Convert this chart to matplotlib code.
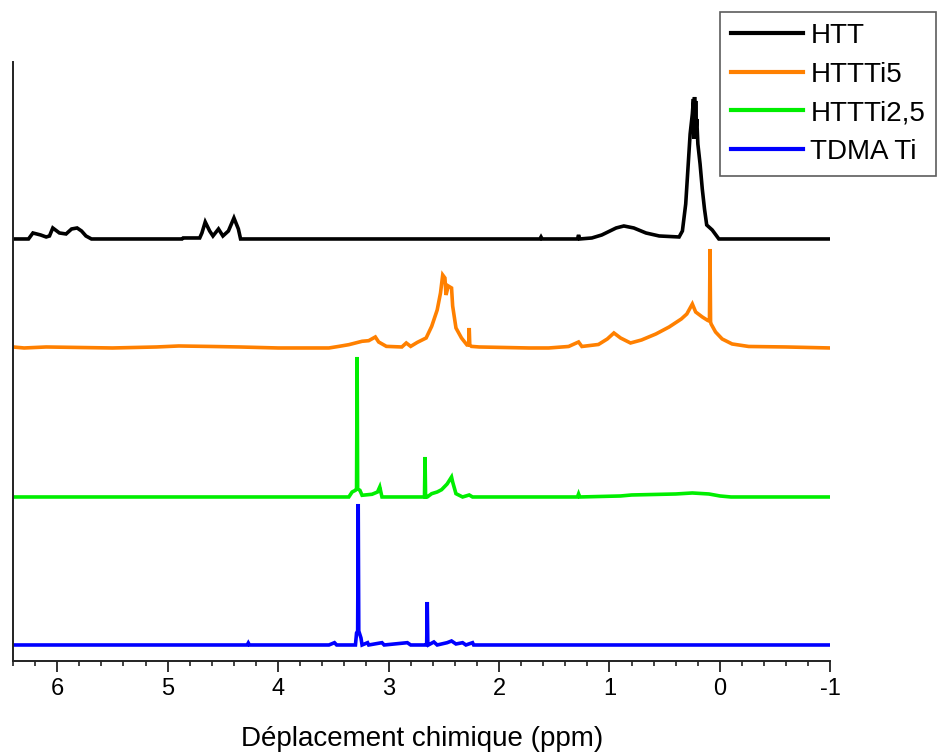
import matplotlib
matplotlib.use("Agg")
import matplotlib.pyplot as plt
from matplotlib.ticker import MultipleLocator

plt.rcParams['font.family'] = ['Liberation Sans', 'DejaVu Sans']

# spectra: chemical shift (ppm) and intensity above each baseline (a.u.)
htt_ppm = [6.40, 6.26, 6.22, 6.15, 6.10, 6.07, 6.04, 5.98, 5.92, 5.87, 5.82, 5.78, 5.74, 5.69,
           4.87, 4.86, 4.71, 4.69, 4.66, 4.62, 4.59, 4.54, 4.50, 4.45, 4.40, 4.36, 4.34,
           1.63, 1.62, 1.61, 1.55, 1.29, 1.28, 1.27, 1.16, 1.07, 0.94, 0.87, 0.78, 0.67, 0.55,
           0.37, 0.34, 0.31, 0.29, 0.27, 0.25, 0.24, 0.235, 0.23, 0.225, 0.22, 0.215, 0.21,
           0.20, 0.18, 0.16, 0.14, 0.12, 0.07, 0.01, -1.00]
htt_int = [0, 0, 6, 4, 2, 3, 11, 6, 5, 10, 11, 8, 3, 0,
           0, 1, 1, 6, 17, 8, 3, 10, 3, 8, 21, 10, 0,
           0, 2, 0, 0, 0, 4, 0, 1, 4, 11, 13, 11, 6, 3,
           2, 8, 35, 70, 105, 125, 140, 100, 142, 108, 138, 112, 120,
           95, 75, 50, 30, 14, 9, 0, 0]

ti5_ppm = [6.40, 6.30, 6.10, 5.50, 5.10, 4.90, 4.60, 4.35, 4.00, 3.54, 3.45, 3.36, 3.24, 3.18,
           3.12, 3.09, 3.02, 2.88, 2.84, 2.80, 2.74, 2.66, 2.61, 2.56, 2.53, 2.51, 2.49, 2.48,
           2.46, 2.43, 2.42, 2.39, 2.34, 2.29, 2.275, 2.27, 2.265, 2.25, 2.18, 1.73, 1.55, 1.37,
           1.28, 1.25, 1.10, 1.02, 0.96, 0.90, 0.81, 0.71, 0.58, 0.46, 0.35, 0.30, 0.25, 0.22,
           0.16, 0.11, 0.095, 0.09, 0.085, 0.08, 0.04, -0.02, -0.11, -0.26, -0.60, -1.00]
ti5_int = [1, 0, 1, 0, 1, 2, 1.5, 1, 0, 0, 1.6, 3.3, 6.7, 7.3,
           11, 6, 1.6, 1, 5, 1.6, 5.6, 10, 21.6, 38, 55, 73, 70, 53,
           62, 60, 42, 20, 10, 3, 3, 20, 3, 1.6, 1, 0, 0, 1.5,
           6, 1.5, 3.5, 9, 15, 10, 5, 8, 14, 21, 29, 34, 44, 36,
           31, 27.5, 27, 99, 26, 24, 16, 9, 4, 1.5, 1, 0]

ti25_ppm = [6.40, 3.54, 3.36, 3.33, 3.30, 3.29, 3.285, 3.28, 3.26, 3.24, 3.15, 3.10, 3.08, 3.06,
            2.70, 2.675, 2.67, 2.665, 2.65, 2.61, 2.56, 2.52, 2.47, 2.43, 2.42, 2.39, 2.33, 2.27,
            2.24, 1.40, 1.29, 1.28, 1.27, 0.90, 0.80, 0.40, 0.25, 0.10, 0.00, -0.10, -1.00]
ti25_int = [0, 0, 0, 5, 6.7, 8, 140, 8, 6.7, 1.7, 2.7, 5, 10, 0,
            0, 0, 40, 0, 0, 3.3, 5, 7.3, 13, 20, 15, 3.3, 0, 2,
            0, 0, 0, 3, 0, 1, 2, 3, 4, 3, 1, 0, 0]

tdma_ppm = [6.40, 4.28, 4.27, 4.26, 3.54, 3.49, 3.47, 3.30, 3.29, 3.28, 3.275, 3.27, 3.25, 3.24,
            3.19, 3.18, 3.06, 3.04, 2.83, 2.80, 2.66, 2.655, 2.65, 2.645, 2.64, 2.59, 2.56,
            2.47, 2.43, 2.39, 2.33, 2.30, 2.24, 2.23, -1.00]
tdma_int = [0, 0, 2, 0, 0, 2.3, 0, 0, 12, 14, 141, 14, 7, 0,
            2.3, 0, 2.3, 0, 2.3, 0, 0, 2, 43, 2, 0, 3, 0,
            2.3, 4, 1, 2.3, 0, 2.3, 0, 0]

labels = ["HTT", "HTTTi5", "HTTTi2,5", "TDMA Ti"]
colors = ["black", "#ff8000", "#00ee00", "#0000ff"]
offsets = [422, 313, 164, 16]
xticks = [6, 5, 4, 3, 2, 1, 0, -1]

fig = plt.figure(figsize=(9.38, 7.53), dpi=100)
ax = fig.add_axes([0.0139, 0.1222, 0.8714, 0.7955])

series = [(htt_ppm, htt_int), (ti5_ppm, ti5_int), (ti25_ppm, ti25_int), (tdma_ppm, tdma_int)]
for (x, y), off, lab, col in zip(series, offsets, labels, colors):
    ax.plot(x, [v + off for v in y], color=col, lw=2.6, label=lab,
            solid_joinstyle='miter')

ax.set_xlim(6.4, -1)
ax.set_ylim(0, 599)
ax.set_xticks(xticks)
ax.set_xticklabels([str(t) for t in xticks])
ax.xaxis.set_minor_locator(MultipleLocator(0.2))
ax.set_yticks([])
for s in ["top", "right"]:
    ax.spines[s].set_visible(False)
for s in ["left", "bottom"]:
    ax.spines[s].set_color("#222222")
    ax.spines[s].set_linewidth(1.4)
ax.tick_params(axis='x', which='major', direction='out', length=8, width=1.3,
               labelsize=17, pad=4, color="#222222")
ax.tick_params(axis='x', which='minor', direction='out', length=3.5, width=1.2,
               color="#222222")
ax.set_xlabel("Déplacement chimique (ppm)", fontsize=20, labelpad=19)

leg = fig.legend(loc='upper left', bbox_to_anchor=(720 / 938, 1 - 12 / 753),
                 fontsize=20, frameon=True, fancybox=False, handlelength=2.6,
                 handletextpad=0.25, labelspacing=0.45, borderpad=0.4,
                 borderaxespad=0)
leg.get_frame().set_edgecolor("#333333")
leg.get_frame().set_linewidth(1.2)
for line in leg.get_lines():
    line.set_linewidth(3)

fig.savefig("out.png", dpi=100)
